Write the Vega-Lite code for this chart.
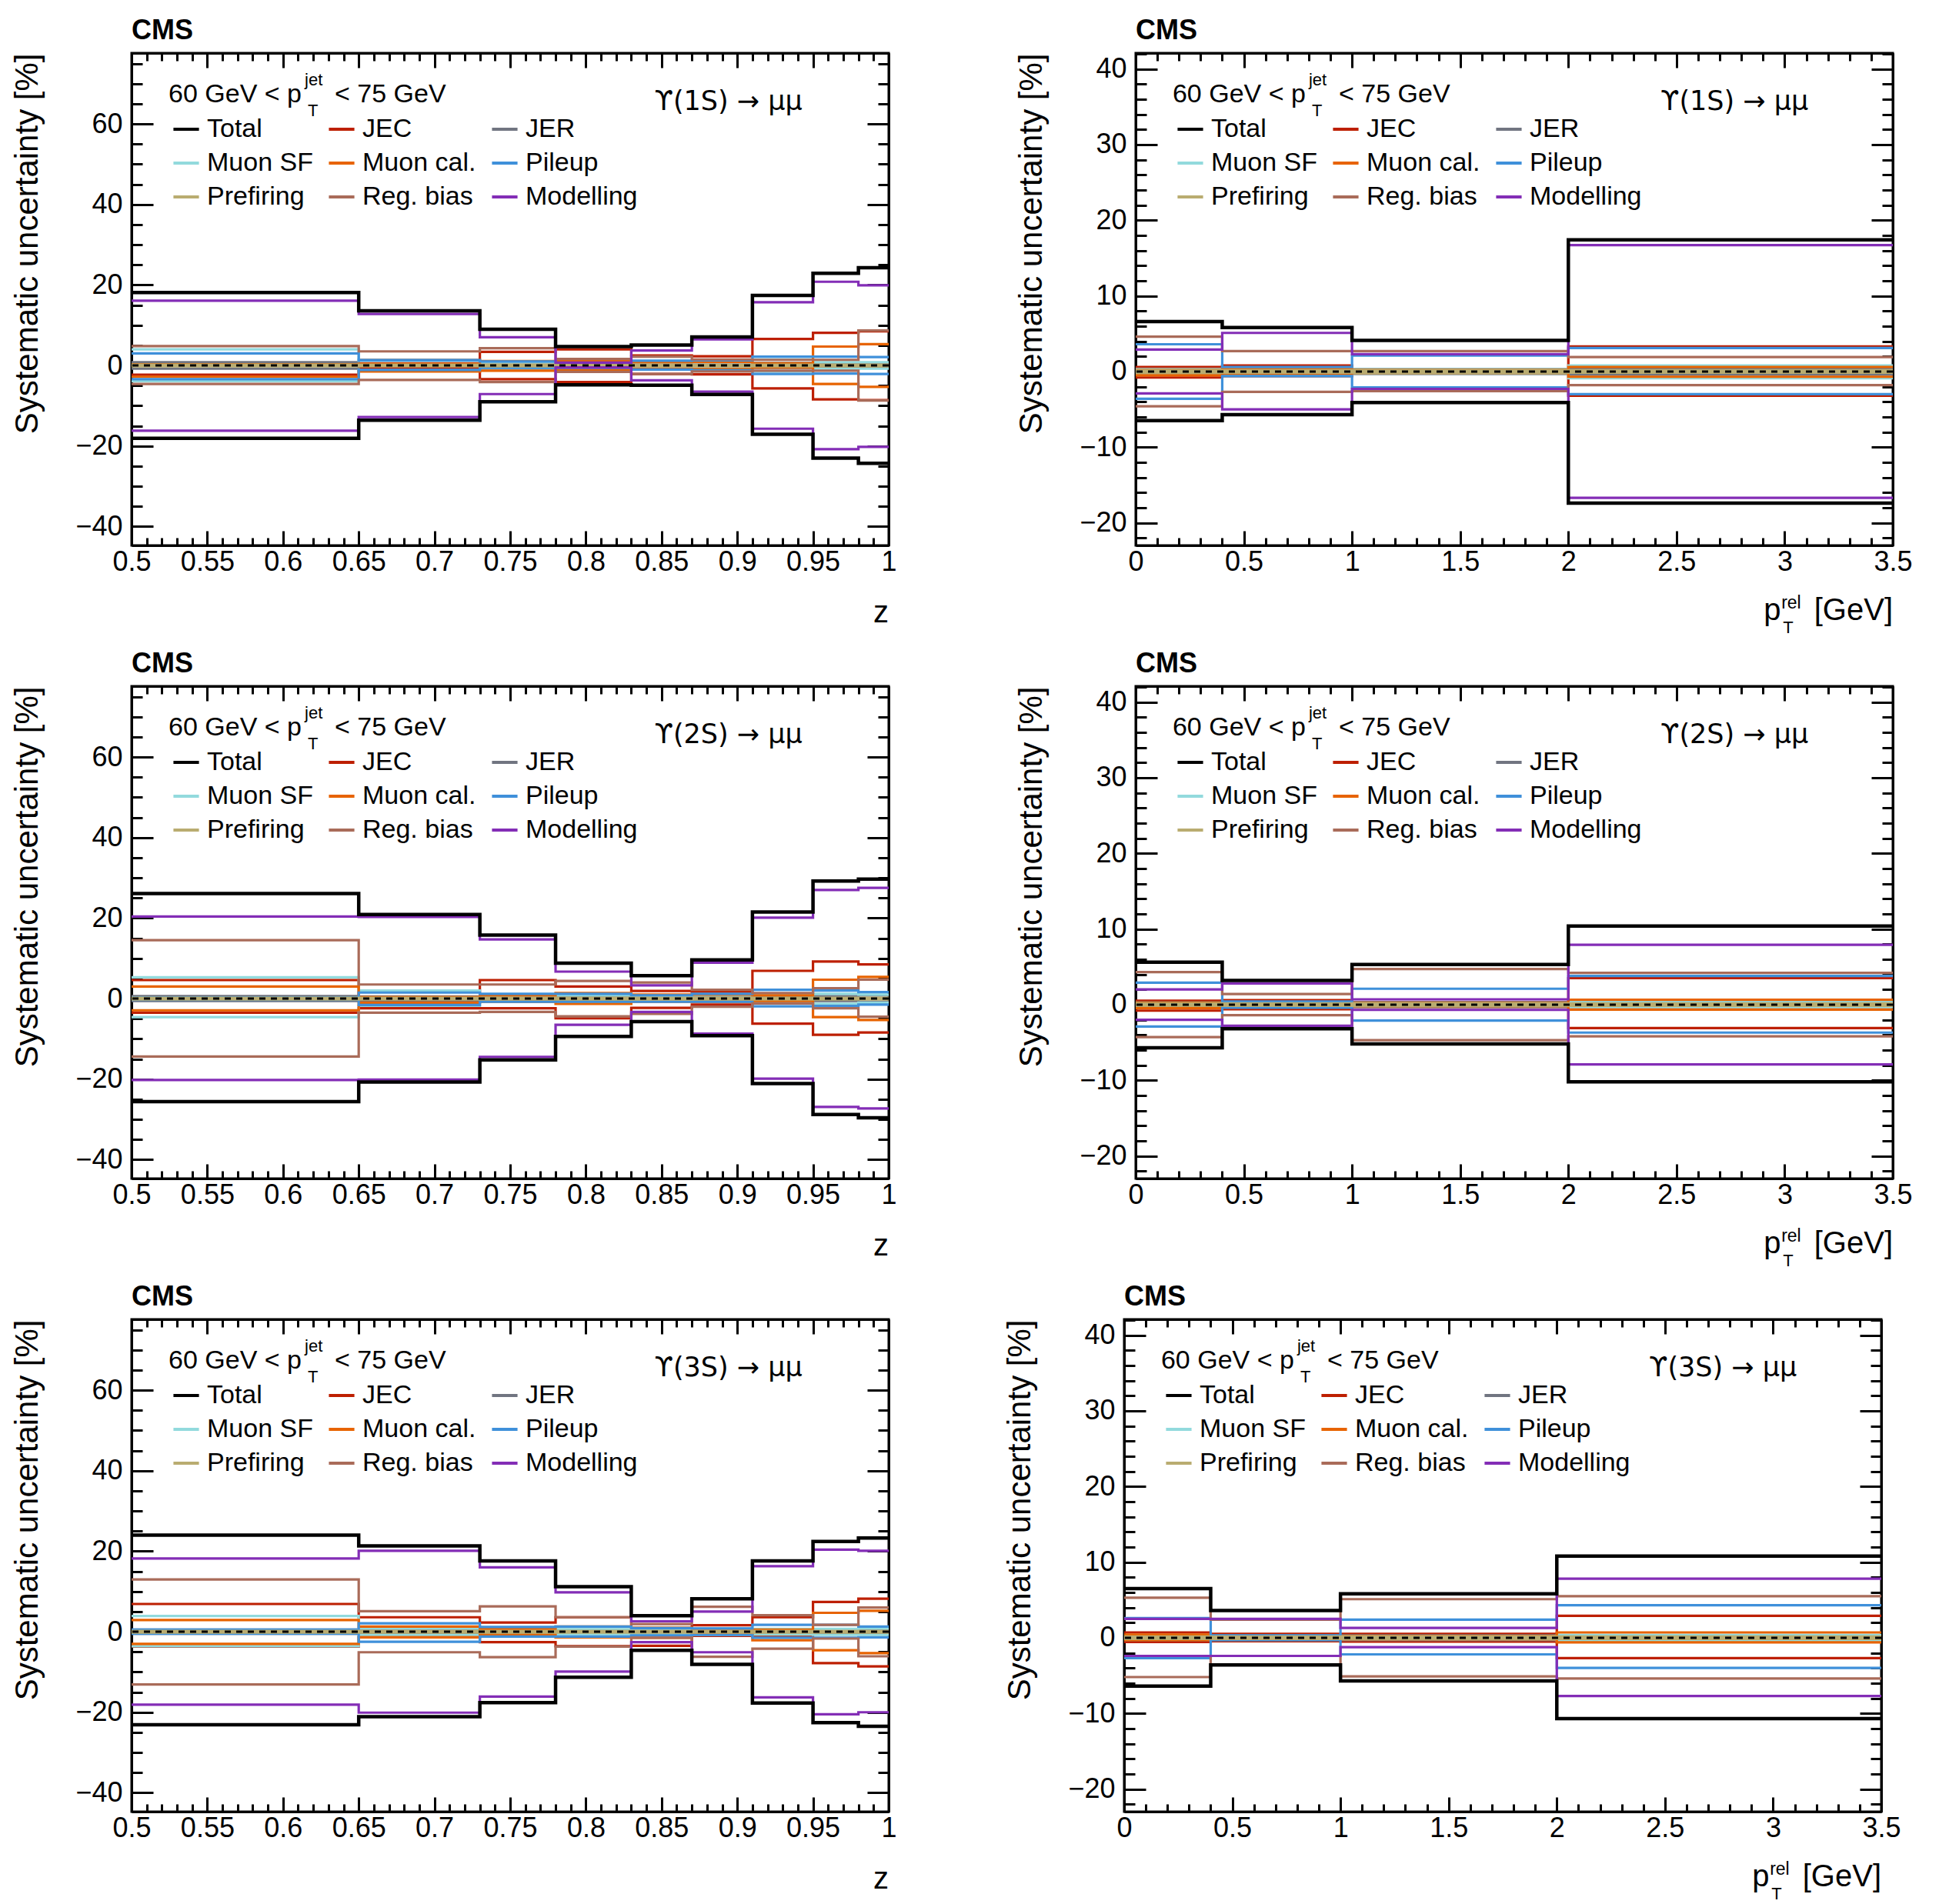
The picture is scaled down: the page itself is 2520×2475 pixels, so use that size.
{
  "$schema": "https://vega.github.io/schema/vega-lite/v6.json",
  "background": "white",
  "padding": {"left": 13, "top": 20, "right": 5, "bottom": 0},
  "config": {
    "font": "Liberation Sans",
    "view": {"stroke": "black", "strokeWidth": 3},
    "axis": {"grid": false, "domainColor": "black", "domainWidth": 3, "tickColor": "black", "tickWidth": 3, "labelFont": "Liberation Sans", "labelFontSize": 36, "labelColor": "black", "labelFlush": false, "labelOverlap": false, "titleFont": "Liberation Sans", "titleFontSize": 42, "titleFontWeight": "normal", "titleColor": "black"},
    "text": {"font": "Liberation Sans", "fontSize": 34, "color": "black", "baseline": "alphabetic", "align": "left"}
  },
  "datasets": {
    "z": [
      {"p":"1S","s":"JEC","x":0.5,"u":0.6,"d":-2.3},{"p":"1S","s":"JEC","x":0.65,"u":0.5,"d":-0.6},{"p":"1S","s":"JEC","x":0.73,"u":3.4,"d":-3.4},{"p":"1S","s":"JEC","x":0.78,"u":4.0,"d":-4.1},{"p":"1S","s":"JEC","x":0.83,"u":2.5,"d":-2.1},{"p":"1S","s":"JEC","x":0.87,"u":2.3,"d":-2.2},{"p":"1S","s":"JEC","x":0.91,"u":6.6,"d":-5.7},{"p":"1S","s":"JEC","x":0.95,"u":8.1,"d":-8.4},{"p":"1S","s":"JEC","x":0.98,"u":8.5,"d":-8.6},{"p":"1S","s":"JEC","x":1,"u":8.5,"d":-8.6},
      {"p":"1S","s":"JER","x":0.5,"u":0.8,"d":-0.8},{"p":"1S","s":"JER","x":0.65,"u":1.4,"d":-1.4},{"p":"1S","s":"JER","x":0.73,"u":0.8,"d":-0.8},{"p":"1S","s":"JER","x":0.78,"u":0.6,"d":-0.6},{"p":"1S","s":"JER","x":0.83,"u":0.8,"d":-0.8},{"p":"1S","s":"JER","x":0.87,"u":0.8,"d":-0.8},{"p":"1S","s":"JER","x":0.91,"u":0.6,"d":-0.6},{"p":"1S","s":"JER","x":0.95,"u":0.6,"d":-0.6},{"p":"1S","s":"JER","x":0.98,"u":0.5,"d":-0.5},{"p":"1S","s":"JER","x":1,"u":0.5,"d":-0.5},
      {"p":"1S","s":"Muon SF","x":0.5,"u":4.0,"d":-3.9},{"p":"1S","s":"Muon SF","x":0.65,"u":1.2,"d":-1.2},{"p":"1S","s":"Muon SF","x":0.73,"u":0.8,"d":-0.8},{"p":"1S","s":"Muon SF","x":0.78,"u":0.6,"d":-0.6},{"p":"1S","s":"Muon SF","x":0.83,"u":0.8,"d":-0.8},{"p":"1S","s":"Muon SF","x":0.87,"u":0.9,"d":-0.9},{"p":"1S","s":"Muon SF","x":0.91,"u":1.5,"d":-1.5},{"p":"1S","s":"Muon SF","x":0.95,"u":0.8,"d":-0.8},{"p":"1S","s":"Muon SF","x":0.98,"u":0.8,"d":-0.8},{"p":"1S","s":"Muon SF","x":1,"u":0.8,"d":-0.8},
      {"p":"1S","s":"Muon cal.","x":0.5,"u":0.3,"d":-2.8},{"p":"1S","s":"Muon cal.","x":0.65,"u":0.4,"d":-1.5},{"p":"1S","s":"Muon cal.","x":0.73,"u":1.1,"d":-1.3},{"p":"1S","s":"Muon cal.","x":0.78,"u":1.1,"d":-1.1},{"p":"1S","s":"Muon cal.","x":0.83,"u":0.8,"d":-0.8},{"p":"1S","s":"Muon cal.","x":0.87,"u":0.9,"d":-0.9},{"p":"1S","s":"Muon cal.","x":0.91,"u":0.5,"d":-0.5},{"p":"1S","s":"Muon cal.","x":0.95,"u":4.7,"d":-4.6},{"p":"1S","s":"Muon cal.","x":0.98,"u":5.3,"d":-5.3},{"p":"1S","s":"Muon cal.","x":1,"u":5.3,"d":-5.3},
      {"p":"1S","s":"Pileup","x":0.5,"u":3.0,"d":-3.4},{"p":"1S","s":"Pileup","x":0.65,"u":1.3,"d":-1.1},{"p":"1S","s":"Pileup","x":0.73,"u":1.0,"d":-0.6},{"p":"1S","s":"Pileup","x":0.78,"u":0.6,"d":-0.6},{"p":"1S","s":"Pileup","x":0.83,"u":1.2,"d":-1.0},{"p":"1S","s":"Pileup","x":0.87,"u":1.3,"d":-1.2},{"p":"1S","s":"Pileup","x":0.91,"u":2.2,"d":-2.1},{"p":"1S","s":"Pileup","x":0.95,"u":2.2,"d":-2.0},{"p":"1S","s":"Pileup","x":0.98,"u":2.1,"d":-2.1},{"p":"1S","s":"Pileup","x":1,"u":2.1,"d":-2.1},
      {"p":"1S","s":"Prefiring","x":0.5,"u":0.2,"d":-0.2},{"p":"1S","s":"Prefiring","x":0.65,"u":0.2,"d":-0.2},{"p":"1S","s":"Prefiring","x":0.73,"u":0.2,"d":-0.2},{"p":"1S","s":"Prefiring","x":0.78,"u":0.2,"d":-0.2},{"p":"1S","s":"Prefiring","x":0.83,"u":0.2,"d":-0.2},{"p":"1S","s":"Prefiring","x":0.87,"u":0.2,"d":-0.2},{"p":"1S","s":"Prefiring","x":0.91,"u":0.2,"d":-0.2},{"p":"1S","s":"Prefiring","x":0.95,"u":0.2,"d":-0.2},{"p":"1S","s":"Prefiring","x":0.98,"u":0.2,"d":-0.2},{"p":"1S","s":"Prefiring","x":1,"u":0.2,"d":-0.2},
      {"p":"1S","s":"Reg. bias","x":0.5,"u":4.8,"d":-4.6},{"p":"1S","s":"Reg. bias","x":0.65,"u":3.5,"d":-3.6},{"p":"1S","s":"Reg. bias","x":0.73,"u":4.3,"d":-4.1},{"p":"1S","s":"Reg. bias","x":0.78,"u":1.6,"d":-1.6},{"p":"1S","s":"Reg. bias","x":0.83,"u":2.2,"d":-2.1},{"p":"1S","s":"Reg. bias","x":0.87,"u":1.5,"d":-1.5},{"p":"1S","s":"Reg. bias","x":0.91,"u":1.4,"d":-1.3},{"p":"1S","s":"Reg. bias","x":0.95,"u":1.4,"d":-1.3},{"p":"1S","s":"Reg. bias","x":0.98,"u":8.7,"d":-8.7},{"p":"1S","s":"Reg. bias","x":1,"u":8.7,"d":-8.7},
      {"p":"1S","s":"Modelling","x":0.5,"u":16.1,"d":-16.2},{"p":"1S","s":"Modelling","x":0.65,"u":12.8,"d":-12.8},{"p":"1S","s":"Modelling","x":0.73,"u":7.0,"d":-7.1},{"p":"1S","s":"Modelling","x":0.78,"u":0.7,"d":-0.5},{"p":"1S","s":"Modelling","x":0.83,"u":3.7,"d":-3.7},{"p":"1S","s":"Modelling","x":0.87,"u":6.5,"d":-6.5},{"p":"1S","s":"Modelling","x":0.91,"u":15.7,"d":-15.7},{"p":"1S","s":"Modelling","x":0.95,"u":20.8,"d":-20.8},{"p":"1S","s":"Modelling","x":0.98,"u":19.9,"d":-20.2},{"p":"1S","s":"Modelling","x":1,"u":19.9,"d":-20.2},
      {"p":"1S","s":"Total","x":0.5,"u":18.1,"d":-18.1},{"p":"1S","s":"Total","x":0.65,"u":13.6,"d":-13.6},{"p":"1S","s":"Total","x":0.73,"u":9.0,"d":-9.0},{"p":"1S","s":"Total","x":0.78,"u":4.7,"d":-4.8},{"p":"1S","s":"Total","x":0.83,"u":5.1,"d":-4.9},{"p":"1S","s":"Total","x":0.87,"u":7.1,"d":-7.2},{"p":"1S","s":"Total","x":0.91,"u":17.4,"d":-17.1},{"p":"1S","s":"Total","x":0.95,"u":22.9,"d":-23.0},{"p":"1S","s":"Total","x":0.98,"u":24.3,"d":-24.3},{"p":"1S","s":"Total","x":1,"u":24.3,"d":-24.3},

      {"p":"2S","s":"JEC","x":0.5,"u":4.6,"d":-3.5},{"p":"2S","s":"JEC","x":0.65,"u":0.3,"d":-2.4},{"p":"2S","s":"JEC","x":0.73,"u":4.6,"d":-2.4},{"p":"2S","s":"JEC","x":0.78,"u":3.0,"d":-4.9},{"p":"2S","s":"JEC","x":0.83,"u":1.9,"d":-2.3},{"p":"2S","s":"JEC","x":0.87,"u":1.7,"d":-1.5},{"p":"2S","s":"JEC","x":0.91,"u":6.9,"d":-6.2},{"p":"2S","s":"JEC","x":0.95,"u":9.2,"d":-9.0},{"p":"2S","s":"JEC","x":0.98,"u":8.5,"d":-8.4},{"p":"2S","s":"JEC","x":1,"u":8.5,"d":-8.4},
      {"p":"2S","s":"JER","x":0.5,"u":0.6,"d":-0.6},{"p":"2S","s":"JER","x":0.65,"u":0.5,"d":-0.5},{"p":"2S","s":"JER","x":0.73,"u":0.5,"d":-0.5},{"p":"2S","s":"JER","x":0.78,"u":0.5,"d":-0.5},{"p":"2S","s":"JER","x":0.83,"u":0.6,"d":-0.6},{"p":"2S","s":"JER","x":0.87,"u":0.5,"d":-0.5},{"p":"2S","s":"JER","x":0.91,"u":0.5,"d":-0.5},{"p":"2S","s":"JER","x":0.95,"u":0.6,"d":-0.6},{"p":"2S","s":"JER","x":0.98,"u":0.8,"d":-0.8},{"p":"2S","s":"JER","x":1,"u":0.8,"d":-0.8},
      {"p":"2S","s":"Muon SF","x":0.5,"u":5.3,"d":-4.6},{"p":"2S","s":"Muon SF","x":0.65,"u":2.0,"d":-1.8},{"p":"2S","s":"Muon SF","x":0.73,"u":0.8,"d":-0.8},{"p":"2S","s":"Muon SF","x":0.78,"u":0.8,"d":-0.8},{"p":"2S","s":"Muon SF","x":0.83,"u":0.6,"d":-0.6},{"p":"2S","s":"Muon SF","x":0.87,"u":0.8,"d":-0.8},{"p":"2S","s":"Muon SF","x":0.91,"u":1.0,"d":-1.0},{"p":"2S","s":"Muon SF","x":0.95,"u":1.2,"d":-1.3},{"p":"2S","s":"Muon SF","x":0.98,"u":1.0,"d":-1.0},{"p":"2S","s":"Muon SF","x":1,"u":1.0,"d":-1.0},
      {"p":"2S","s":"Muon cal.","x":0.5,"u":3.0,"d":-2.9},{"p":"2S","s":"Muon cal.","x":0.65,"u":0.4,"d":-1.0},{"p":"2S","s":"Muon cal.","x":0.73,"u":0.8,"d":-0.8},{"p":"2S","s":"Muon cal.","x":0.78,"u":1.4,"d":-1.3},{"p":"2S","s":"Muon cal.","x":0.83,"u":1.0,"d":-0.8},{"p":"2S","s":"Muon cal.","x":0.87,"u":1.0,"d":-0.8},{"p":"2S","s":"Muon cal.","x":0.91,"u":0.8,"d":-0.6},{"p":"2S","s":"Muon cal.","x":0.95,"u":4.7,"d":-4.6},{"p":"2S","s":"Muon cal.","x":0.98,"u":5.4,"d":-5.3},{"p":"2S","s":"Muon cal.","x":1,"u":5.4,"d":-5.3},
      {"p":"2S","s":"Pileup","x":0.5,"u":0.3,"d":-0.3},{"p":"2S","s":"Pileup","x":0.65,"u":1.5,"d":-1.6},{"p":"2S","s":"Pileup","x":0.73,"u":1.2,"d":-0.8},{"p":"2S","s":"Pileup","x":0.78,"u":1.2,"d":-0.8},{"p":"2S","s":"Pileup","x":0.83,"u":0.8,"d":-0.8},{"p":"2S","s":"Pileup","x":0.87,"u":1.2,"d":-0.8},{"p":"2S","s":"Pileup","x":0.91,"u":2.2,"d":-1.9},{"p":"2S","s":"Pileup","x":0.95,"u":2.0,"d":-1.8},{"p":"2S","s":"Pileup","x":0.98,"u":1.6,"d":-1.5},{"p":"2S","s":"Pileup","x":1,"u":1.6,"d":-1.5},
      {"p":"2S","s":"Prefiring","x":0.5,"u":0.2,"d":-0.2},{"p":"2S","s":"Prefiring","x":0.65,"u":0.2,"d":-0.2},{"p":"2S","s":"Prefiring","x":0.73,"u":0.2,"d":-0.2},{"p":"2S","s":"Prefiring","x":0.78,"u":0.2,"d":-0.2},{"p":"2S","s":"Prefiring","x":0.83,"u":0.2,"d":-0.2},{"p":"2S","s":"Prefiring","x":0.87,"u":0.2,"d":-0.2},{"p":"2S","s":"Prefiring","x":0.91,"u":0.2,"d":-0.2},{"p":"2S","s":"Prefiring","x":0.95,"u":0.2,"d":-0.2},{"p":"2S","s":"Prefiring","x":0.98,"u":0.2,"d":-0.2},{"p":"2S","s":"Prefiring","x":1,"u":0.2,"d":-0.2},
      {"p":"2S","s":"Reg. bias","x":0.5,"u":14.5,"d":-14.4},{"p":"2S","s":"Reg. bias","x":0.65,"u":3.5,"d":-3.5},{"p":"2S","s":"Reg. bias","x":0.73,"u":3.5,"d":-3.3},{"p":"2S","s":"Reg. bias","x":0.78,"u":4.4,"d":-4.4},{"p":"2S","s":"Reg. bias","x":0.83,"u":4.0,"d":-3.8},{"p":"2S","s":"Reg. bias","x":0.87,"u":2.2,"d":-2.0},{"p":"2S","s":"Reg. bias","x":0.91,"u":1.4,"d":-1.2},{"p":"2S","s":"Reg. bias","x":0.95,"u":2.6,"d":-2.4},{"p":"2S","s":"Reg. bias","x":0.98,"u":4.7,"d":-4.5},{"p":"2S","s":"Reg. bias","x":1,"u":4.7,"d":-4.5},
      {"p":"2S","s":"Modelling","x":0.5,"u":20.4,"d":-20.2},{"p":"2S","s":"Modelling","x":0.65,"u":20.3,"d":-20.1},{"p":"2S","s":"Modelling","x":0.73,"u":14.7,"d":-14.5},{"p":"2S","s":"Modelling","x":0.78,"u":6.7,"d":-6.5},{"p":"2S","s":"Modelling","x":0.83,"u":3.3,"d":-3.3},{"p":"2S","s":"Modelling","x":0.87,"u":8.9,"d":-8.7},{"p":"2S","s":"Modelling","x":0.91,"u":20.1,"d":-19.9},{"p":"2S","s":"Modelling","x":0.95,"u":27.0,"d":-26.9},{"p":"2S","s":"Modelling","x":0.98,"u":27.5,"d":-27.3},{"p":"2S","s":"Modelling","x":1,"u":27.5,"d":-27.3},
      {"p":"2S","s":"Total","x":0.5,"u":26.1,"d":-25.6},{"p":"2S","s":"Total","x":0.65,"u":20.9,"d":-20.7},{"p":"2S","s":"Total","x":0.73,"u":15.8,"d":-15.2},{"p":"2S","s":"Total","x":0.78,"u":8.8,"d":-9.4},{"p":"2S","s":"Total","x":0.83,"u":5.7,"d":-5.7},{"p":"2S","s":"Total","x":0.87,"u":9.6,"d":-9.2},{"p":"2S","s":"Total","x":0.91,"u":21.5,"d":-21.1},{"p":"2S","s":"Total","x":0.95,"u":29.2,"d":-28.8},{"p":"2S","s":"Total","x":0.98,"u":29.7,"d":-29.6},{"p":"2S","s":"Total","x":1,"u":29.7,"d":-29.6},

      {"p":"3S","s":"JEC","x":0.5,"u":6.9,"d":-3.7},{"p":"3S","s":"JEC","x":0.65,"u":3.6,"d":-1.3},{"p":"3S","s":"JEC","x":0.73,"u":2.3,"d":-2.6},{"p":"3S","s":"JEC","x":0.78,"u":3.6,"d":-3.6},{"p":"3S","s":"JEC","x":0.83,"u":0.8,"d":-3.5},{"p":"3S","s":"JEC","x":0.87,"u":1.6,"d":-1.0},{"p":"3S","s":"JEC","x":0.91,"u":3.6,"d":-1.2},{"p":"3S","s":"JEC","x":0.95,"u":7.4,"d":-7.8},{"p":"3S","s":"JEC","x":0.98,"u":8.2,"d":-8.6},{"p":"3S","s":"JEC","x":1,"u":8.2,"d":-8.6},
      {"p":"3S","s":"JER","x":0.5,"u":0.5,"d":-0.5},{"p":"3S","s":"JER","x":0.65,"u":0.5,"d":-0.5},{"p":"3S","s":"JER","x":0.73,"u":0.5,"d":-0.5},{"p":"3S","s":"JER","x":0.78,"u":0.5,"d":-0.5},{"p":"3S","s":"JER","x":0.83,"u":0.5,"d":-0.5},{"p":"3S","s":"JER","x":0.87,"u":0.5,"d":-0.5},{"p":"3S","s":"JER","x":0.91,"u":0.5,"d":-0.5},{"p":"3S","s":"JER","x":0.95,"u":0.5,"d":-0.5},{"p":"3S","s":"JER","x":0.98,"u":0.6,"d":-0.6},{"p":"3S","s":"JER","x":1,"u":0.6,"d":-0.6},
      {"p":"3S","s":"Muon SF","x":0.5,"u":3.9,"d":-3.6},{"p":"3S","s":"Muon SF","x":0.65,"u":0.8,"d":-0.8},{"p":"3S","s":"Muon SF","x":0.73,"u":0.6,"d":-0.6},{"p":"3S","s":"Muon SF","x":0.78,"u":0.6,"d":-0.6},{"p":"3S","s":"Muon SF","x":0.83,"u":0.6,"d":-0.6},{"p":"3S","s":"Muon SF","x":0.87,"u":0.8,"d":-0.8},{"p":"3S","s":"Muon SF","x":0.91,"u":0.7,"d":-0.7},{"p":"3S","s":"Muon SF","x":0.95,"u":0.7,"d":-0.8},{"p":"3S","s":"Muon SF","x":0.98,"u":0.8,"d":-0.8},{"p":"3S","s":"Muon SF","x":1,"u":0.8,"d":-0.8},
      {"p":"3S","s":"Muon cal.","x":0.5,"u":2.9,"d":-3.0},{"p":"3S","s":"Muon cal.","x":0.65,"u":1.3,"d":-1.4},{"p":"3S","s":"Muon cal.","x":0.73,"u":0.7,"d":-0.7},{"p":"3S","s":"Muon cal.","x":0.78,"u":1.3,"d":-1.4},{"p":"3S","s":"Muon cal.","x":0.83,"u":1.0,"d":-1.5},{"p":"3S","s":"Muon cal.","x":0.87,"u":0.5,"d":-0.5},{"p":"3S","s":"Muon cal.","x":0.91,"u":0.5,"d":-2.1},{"p":"3S","s":"Muon cal.","x":0.95,"u":4.7,"d":-4.6},{"p":"3S","s":"Muon cal.","x":0.98,"u":5.2,"d":-5.3},{"p":"3S","s":"Muon cal.","x":1,"u":5.2,"d":-5.3},
      {"p":"3S","s":"Pileup","x":0.5,"u":0.5,"d":-0.5},{"p":"3S","s":"Pileup","x":0.65,"u":2.1,"d":-2.5},{"p":"3S","s":"Pileup","x":0.73,"u":1.2,"d":-1.2},{"p":"3S","s":"Pileup","x":0.78,"u":1.3,"d":-1.2},{"p":"3S","s":"Pileup","x":0.83,"u":0.9,"d":-0.9},{"p":"3S","s":"Pileup","x":0.87,"u":0.8,"d":-0.8},{"p":"3S","s":"Pileup","x":0.91,"u":1.7,"d":-1.5},{"p":"3S","s":"Pileup","x":0.95,"u":1.7,"d":-1.5},{"p":"3S","s":"Pileup","x":0.98,"u":1.3,"d":-1.4},{"p":"3S","s":"Pileup","x":1,"u":1.3,"d":-1.4},
      {"p":"3S","s":"Prefiring","x":0.5,"u":0.2,"d":-0.2},{"p":"3S","s":"Prefiring","x":0.65,"u":0.2,"d":-0.2},{"p":"3S","s":"Prefiring","x":0.73,"u":0.2,"d":-0.2},{"p":"3S","s":"Prefiring","x":0.78,"u":0.2,"d":-0.2},{"p":"3S","s":"Prefiring","x":0.83,"u":0.2,"d":-0.2},{"p":"3S","s":"Prefiring","x":0.87,"u":0.2,"d":-0.2},{"p":"3S","s":"Prefiring","x":0.91,"u":0.2,"d":-0.2},{"p":"3S","s":"Prefiring","x":0.95,"u":0.2,"d":-0.2},{"p":"3S","s":"Prefiring","x":0.98,"u":0.2,"d":-0.2},{"p":"3S","s":"Prefiring","x":1,"u":0.2,"d":-0.2},
      {"p":"3S","s":"Reg. bias","x":0.5,"u":13.0,"d":-13.1},{"p":"3S","s":"Reg. bias","x":0.65,"u":5.1,"d":-5.1},{"p":"3S","s":"Reg. bias","x":0.73,"u":6.3,"d":-6.3},{"p":"3S","s":"Reg. bias","x":0.78,"u":3.6,"d":-3.7},{"p":"3S","s":"Reg. bias","x":0.83,"u":1.9,"d":-1.5},{"p":"3S","s":"Reg. bias","x":0.87,"u":6.2,"d":-6.2},{"p":"3S","s":"Reg. bias","x":0.91,"u":4.1,"d":-4.2},{"p":"3S","s":"Reg. bias","x":0.95,"u":1.7,"d":-1.7},{"p":"3S","s":"Reg. bias","x":0.98,"u":6.0,"d":-6.1},{"p":"3S","s":"Reg. bias","x":1,"u":6.0,"d":-6.1},
      {"p":"3S","s":"Modelling","x":0.5,"u":18.2,"d":-18.1},{"p":"3S","s":"Modelling","x":0.65,"u":20.1,"d":-20.1},{"p":"3S","s":"Modelling","x":0.73,"u":16.0,"d":-16.1},{"p":"3S","s":"Modelling","x":0.78,"u":9.8,"d":-9.9},{"p":"3S","s":"Modelling","x":0.83,"u":2.6,"d":-2.6},{"p":"3S","s":"Modelling","x":0.87,"u":5.0,"d":-5.1},{"p":"3S","s":"Modelling","x":0.91,"u":16.3,"d":-16.3},{"p":"3S","s":"Modelling","x":0.95,"u":20.4,"d":-20.5},{"p":"3S","s":"Modelling","x":0.98,"u":20.1,"d":-20.0},{"p":"3S","s":"Modelling","x":1,"u":20.1,"d":-20.0},
      {"p":"3S","s":"Total","x":0.5,"u":24.0,"d":-23.1},{"p":"3S","s":"Total","x":0.65,"u":21.3,"d":-21.1},{"p":"3S","s":"Total","x":0.73,"u":17.6,"d":-17.6},{"p":"3S","s":"Total","x":0.78,"u":11.2,"d":-11.3},{"p":"3S","s":"Total","x":0.83,"u":4.0,"d":-4.6},{"p":"3S","s":"Total","x":0.87,"u":8.2,"d":-8.1},{"p":"3S","s":"Total","x":0.91,"u":17.6,"d":-17.7},{"p":"3S","s":"Total","x":0.95,"u":22.4,"d":-22.6},{"p":"3S","s":"Total","x":0.98,"u":23.3,"d":-23.5},{"p":"3S","s":"Total","x":1,"u":23.3,"d":-23.5}
    ],
    "pt": [
      {"p":"1S","s":"JEC","x":0,"u":0.6,"d":-0.8},{"p":"1S","s":"JEC","x":0.4,"u":0.8,"d":-0.6},{"p":"1S","s":"JEC","x":1,"u":0.3,"d":-0.3},{"p":"1S","s":"JEC","x":2,"u":3.3,"d":-3.2},{"p":"1S","s":"JEC","x":3.5,"u":3.3,"d":-3.2},
      {"p":"1S","s":"JER","x":0,"u":0.3,"d":-0.3},{"p":"1S","s":"JER","x":0.4,"u":0.3,"d":-0.3},{"p":"1S","s":"JER","x":1,"u":0.3,"d":-0.3},{"p":"1S","s":"JER","x":2,"u":0.4,"d":-0.4},{"p":"1S","s":"JER","x":3.5,"u":0.4,"d":-0.4},
      {"p":"1S","s":"Muon SF","x":0,"u":0.3,"d":-0.3},{"p":"1S","s":"Muon SF","x":0.4,"u":0.4,"d":-0.4},{"p":"1S","s":"Muon SF","x":1,"u":0.3,"d":-0.3},{"p":"1S","s":"Muon SF","x":2,"u":0.8,"d":-0.9},{"p":"1S","s":"Muon SF","x":3.5,"u":0.8,"d":-0.9},
      {"p":"1S","s":"Muon cal.","x":0,"u":0.2,"d":-0.5},{"p":"1S","s":"Muon cal.","x":0.4,"u":0.3,"d":-0.3},{"p":"1S","s":"Muon cal.","x":1,"u":0.2,"d":-0.2},{"p":"1S","s":"Muon cal.","x":2,"u":0.6,"d":-0.7},{"p":"1S","s":"Muon cal.","x":3.5,"u":0.6,"d":-0.7},
      {"p":"1S","s":"Pileup","x":0,"u":3.6,"d":-3.6},{"p":"1S","s":"Pileup","x":0.4,"u":0.6,"d":-0.6},{"p":"1S","s":"Pileup","x":1,"u":2.1,"d":-2.1},{"p":"1S","s":"Pileup","x":2,"u":3.1,"d":-3.0},{"p":"1S","s":"Pileup","x":3.5,"u":3.1,"d":-3.0},
      {"p":"1S","s":"Prefiring","x":0,"u":0.15,"d":-0.15},{"p":"1S","s":"Prefiring","x":0.4,"u":0.15,"d":-0.15},{"p":"1S","s":"Prefiring","x":1,"u":0.15,"d":-0.15},{"p":"1S","s":"Prefiring","x":2,"u":0.15,"d":-0.15},{"p":"1S","s":"Prefiring","x":3.5,"u":0.15,"d":-0.15},
      {"p":"1S","s":"Reg. bias","x":0,"u":4.6,"d":-4.6},{"p":"1S","s":"Reg. bias","x":0.4,"u":2.7,"d":-2.7},{"p":"1S","s":"Reg. bias","x":1,"u":2.7,"d":-2.6},{"p":"1S","s":"Reg. bias","x":2,"u":1.9,"d":-1.8},{"p":"1S","s":"Reg. bias","x":3.5,"u":1.9,"d":-1.8},
      {"p":"1S","s":"Modelling","x":0,"u":2.9,"d":-2.9},{"p":"1S","s":"Modelling","x":0.4,"u":5.1,"d":-5.0},{"p":"1S","s":"Modelling","x":1,"u":2.3,"d":-2.3},{"p":"1S","s":"Modelling","x":2,"u":16.7,"d":-16.7},{"p":"1S","s":"Modelling","x":3.5,"u":16.7,"d":-16.7},
      {"p":"1S","s":"Total","x":0,"u":6.6,"d":-6.5},{"p":"1S","s":"Total","x":0.4,"u":5.8,"d":-5.7},{"p":"1S","s":"Total","x":1,"u":4.1,"d":-4.1},{"p":"1S","s":"Total","x":2,"u":17.4,"d":-17.4},{"p":"1S","s":"Total","x":3.5,"u":17.4,"d":-17.4},

      {"p":"2S","s":"JEC","x":0,"u":0.5,"d":-0.8},{"p":"2S","s":"JEC","x":0.4,"u":0.6,"d":-0.6},{"p":"2S","s":"JEC","x":1,"u":0.3,"d":-0.3},{"p":"2S","s":"JEC","x":2,"u":3.5,"d":-3.1},{"p":"2S","s":"JEC","x":3.5,"u":3.5,"d":-3.1},
      {"p":"2S","s":"JER","x":0,"u":0.3,"d":-0.3},{"p":"2S","s":"JER","x":0.4,"u":0.3,"d":-0.3},{"p":"2S","s":"JER","x":1,"u":0.3,"d":-0.3},{"p":"2S","s":"JER","x":2,"u":0.3,"d":-0.3},{"p":"2S","s":"JER","x":3.5,"u":0.3,"d":-0.3},
      {"p":"2S","s":"Muon SF","x":0,"u":0.2,"d":-0.2},{"p":"2S","s":"Muon SF","x":0.4,"u":0.2,"d":-0.2},{"p":"2S","s":"Muon SF","x":1,"u":0.2,"d":-0.2},{"p":"2S","s":"Muon SF","x":2,"u":0.3,"d":-0.3},{"p":"2S","s":"Muon SF","x":3.5,"u":0.3,"d":-0.3},
      {"p":"2S","s":"Muon cal.","x":0,"u":0.25,"d":-0.45},{"p":"2S","s":"Muon cal.","x":0.4,"u":0.2,"d":-0.2},{"p":"2S","s":"Muon cal.","x":1,"u":0.2,"d":-0.2},{"p":"2S","s":"Muon cal.","x":2,"u":0.65,"d":-0.65},{"p":"2S","s":"Muon cal.","x":3.5,"u":0.65,"d":-0.65},
      {"p":"2S","s":"Pileup","x":0,"u":2.9,"d":-2.9},{"p":"2S","s":"Pileup","x":0.4,"u":0.4,"d":-0.4},{"p":"2S","s":"Pileup","x":1,"u":2.1,"d":-2.1},{"p":"2S","s":"Pileup","x":2,"u":3.8,"d":-3.7},{"p":"2S","s":"Pileup","x":3.5,"u":3.8,"d":-3.7},
      {"p":"2S","s":"Prefiring","x":0,"u":0.15,"d":-0.15},{"p":"2S","s":"Prefiring","x":0.4,"u":0.15,"d":-0.15},{"p":"2S","s":"Prefiring","x":1,"u":0.15,"d":-0.15},{"p":"2S","s":"Prefiring","x":2,"u":0.15,"d":-0.15},{"p":"2S","s":"Prefiring","x":3.5,"u":0.15,"d":-0.15},
      {"p":"2S","s":"Reg. bias","x":0,"u":4.3,"d":-4.3},{"p":"2S","s":"Reg. bias","x":0.4,"u":1.4,"d":-1.4},{"p":"2S","s":"Reg. bias","x":1,"u":4.7,"d":-4.7},{"p":"2S","s":"Reg. bias","x":2,"u":4.2,"d":-4.2},{"p":"2S","s":"Reg. bias","x":3.5,"u":4.2,"d":-4.2},
      {"p":"2S","s":"Modelling","x":0,"u":2.0,"d":-2.0},{"p":"2S","s":"Modelling","x":0.4,"u":2.8,"d":-2.8},{"p":"2S","s":"Modelling","x":1,"u":0.7,"d":-0.7},{"p":"2S","s":"Modelling","x":2,"u":7.9,"d":-7.9},{"p":"2S","s":"Modelling","x":3.5,"u":7.9,"d":-7.9},
      {"p":"2S","s":"Total","x":0,"u":5.6,"d":-5.7},{"p":"2S","s":"Total","x":0.4,"u":3.2,"d":-3.2},{"p":"2S","s":"Total","x":1,"u":5.3,"d":-5.2},{"p":"2S","s":"Total","x":2,"u":10.4,"d":-10.2},{"p":"2S","s":"Total","x":3.5,"u":10.4,"d":-10.2},

      {"p":"3S","s":"JEC","x":0,"u":0.7,"d":-0.55},{"p":"3S","s":"JEC","x":0.4,"u":0.5,"d":-0.45},{"p":"3S","s":"JEC","x":1,"u":0.5,"d":-0.5},{"p":"3S","s":"JEC","x":2,"u":2.9,"d":-2.7},{"p":"3S","s":"JEC","x":3.5,"u":2.9,"d":-2.7},
      {"p":"3S","s":"JER","x":0,"u":0.3,"d":-0.3},{"p":"3S","s":"JER","x":0.4,"u":0.3,"d":-0.3},{"p":"3S","s":"JER","x":1,"u":0.3,"d":-0.3},{"p":"3S","s":"JER","x":2,"u":0.3,"d":-0.3},{"p":"3S","s":"JER","x":3.5,"u":0.3,"d":-0.3},
      {"p":"3S","s":"Muon SF","x":0,"u":0.2,"d":-0.2},{"p":"3S","s":"Muon SF","x":0.4,"u":0.2,"d":-0.2},{"p":"3S","s":"Muon SF","x":1,"u":0.2,"d":-0.2},{"p":"3S","s":"Muon SF","x":2,"u":0.35,"d":-0.35},{"p":"3S","s":"Muon SF","x":3.5,"u":0.35,"d":-0.35},
      {"p":"3S","s":"Muon cal.","x":0,"u":0.4,"d":-0.3},{"p":"3S","s":"Muon cal.","x":0.4,"u":0.2,"d":-0.2},{"p":"3S","s":"Muon cal.","x":1,"u":0.2,"d":-0.2},{"p":"3S","s":"Muon cal.","x":2,"u":0.7,"d":-0.6},{"p":"3S","s":"Muon cal.","x":3.5,"u":0.7,"d":-0.6},
      {"p":"3S","s":"Pileup","x":0,"u":2.6,"d":-2.7},{"p":"3S","s":"Pileup","x":0.4,"u":0.3,"d":-0.3},{"p":"3S","s":"Pileup","x":1,"u":2.4,"d":-2.2},{"p":"3S","s":"Pileup","x":2,"u":4.3,"d":-4.0},{"p":"3S","s":"Pileup","x":3.5,"u":4.3,"d":-4.0},
      {"p":"3S","s":"Prefiring","x":0,"u":0.15,"d":-0.15},{"p":"3S","s":"Prefiring","x":0.4,"u":0.15,"d":-0.15},{"p":"3S","s":"Prefiring","x":1,"u":0.15,"d":-0.15},{"p":"3S","s":"Prefiring","x":2,"u":0.15,"d":-0.15},{"p":"3S","s":"Prefiring","x":3.5,"u":0.15,"d":-0.15},
      {"p":"3S","s":"Reg. bias","x":0,"u":5.3,"d":-5.2},{"p":"3S","s":"Reg. bias","x":0.4,"u":2.4,"d":-2.4},{"p":"3S","s":"Reg. bias","x":1,"u":5.1,"d":-5.1},{"p":"3S","s":"Reg. bias","x":2,"u":5.5,"d":-5.4},{"p":"3S","s":"Reg. bias","x":3.5,"u":5.5,"d":-5.4},
      {"p":"3S","s":"Modelling","x":0,"u":2.5,"d":-2.4},{"p":"3S","s":"Modelling","x":0.4,"u":2.5,"d":-2.4},{"p":"3S","s":"Modelling","x":1,"u":1.3,"d":-1.25},{"p":"3S","s":"Modelling","x":2,"u":7.8,"d":-7.7},{"p":"3S","s":"Modelling","x":3.5,"u":7.8,"d":-7.7},
      {"p":"3S","s":"Total","x":0,"u":6.5,"d":-6.4},{"p":"3S","s":"Total","x":0.4,"u":3.6,"d":-3.6},{"p":"3S","s":"Total","x":1,"u":5.8,"d":-5.7},{"p":"3S","s":"Total","x":2,"u":10.8,"d":-10.7},{"p":"3S","s":"Total","x":3.5,"u":10.8,"d":-10.7}
    ]
  },
  "spacing": 14,
  "resolve": {"scale": {"color": "independent"}, "legend": {"color": "independent"}},
  "vconcat": [
    {
      "spacing": 151,
      "resolve": {"scale": {"color": "independent"}, "legend": {"color": "independent"}},
      "hconcat": [
        {
          "width": 984, "height": 640,
          "resolve": {"axis": {"x": "independent", "y": "independent"}},
          "layer": [
            {"data": {"name": "z"}, "transform": [{"filter": "datum.p === '1S'"}, {"fold": ["u", "d"], "as": ["dir", "v"]}],
             "mark": {"type": "line", "interpolate": "step-after"},
             "encoding": {
               "x": {"field": "x", "type": "quantitative", "scale": {"domain": [0.5, 1], "nice": false, "zero": false},
                     "axis": {"orient": "bottom", "title": null, "format": "~g", "values": [0.5,0.51,0.52,0.53,0.54,0.55,0.56,0.57,0.58,0.59,0.6,0.61,0.62,0.63,0.64,0.65,0.66,0.67,0.68,0.69,0.7,0.71,0.72,0.73,0.74,0.75,0.76,0.77,0.78,0.79,0.8,0.81,0.82,0.83,0.84,0.85,0.86,0.87,0.88,0.89,0.9,0.91,0.92,0.93,0.94,0.95,0.96,0.97,0.98,0.99,1], "labelExpr": "round(datum.value*100) % 5 === 0 ? datum.label : ''", "tickSize": {"condition": {"test": "round(datum.value*100) % 5 === 0", "value": -19}, "value": -10}, "labelPadding": 23}},
               "y": {"field": "v", "type": "quantitative", "scale": {"domain": [-44.7, 77.6], "nice": false, "zero": false},
                     "axis": {"orient": "left", "title": "Systematic uncertainty [%]", "titleAnchor": "end", "titlePadding": 40, "values": [-40,-35,-30,-25,-20,-15,-10,-5,0,5,10,15,20,25,30,35,40,45,50,55,60,65,70,75], "labelExpr": "datum.value % 20 === 0 ? datum.label : ''", "tickSize": {"condition": {"test": "datum.value % 20 === 0", "value": -28}, "value": -14}, "labelPadding": 40}},
               "color": {"field": "s", "type": "nominal", "scale": {"domain": ["Total", "JEC", "JER", "Muon SF", "Muon cal.", "Pileup", "Prefiring", "Reg. bias", "Modelling"], "range": ["#000000", "#bd1f01", "#717581", "#92dadd", "#e76300", "#3f90da", "#b9ac70", "#a96b59", "#832db6"]},
                         "legend": {"title": null, "orient": "none", "legendX": 52, "legendY": 80, "direction": "horizontal", "columns": 3, "symbolType": "stroke", "symbolSize": 1100, "symbolStrokeWidth": 4, "labelFontSize": 34, "labelColor": "black", "labelOffset": 8, "columnPadding": 12, "rowPadding": 8, "padding": 0, "labelLimit": 400}},
               "detail": {"field": "dir"},
               "strokeWidth": {"condition": {"test": "datum.s === 'Total'", "value": 4.5}, "value": 3.2}
             }},
            {"data": {"values": [{}]}, "mark": {"type": "rule", "strokeDash": [8, 7], "strokeWidth": 3, "color": "black"}, "encoding": {"y": {"datum": 0, "axis": null}}},
            {"data": {"values": [{}]}, "mark": {"type": "point", "opacity": 0},
             "encoding": {
               "x": {"datum": 0.75, "axis": {"orient": "top", "title": null, "labels": false, "values": [0.5,0.51,0.52,0.53,0.54,0.55,0.56,0.57,0.58,0.59,0.6,0.61,0.62,0.63,0.64,0.65,0.66,0.67,0.68,0.69,0.7,0.71,0.72,0.73,0.74,0.75,0.76,0.77,0.78,0.79,0.8,0.81,0.82,0.83,0.84,0.85,0.86,0.87,0.88,0.89,0.9,0.91,0.92,0.93,0.94,0.95,0.96,0.97,0.98,0.99,1], "tickSize": {"condition": {"test": "round(datum.value*100) % 5 === 0", "value": -19}, "value": -10}}},
               "y": {"datum": 0, "axis": {"orient": "right", "title": null, "labels": false, "values": [-40,-35,-30,-25,-20,-15,-10,-5,0,5,10,15,20,25,30,35,40,45,50,55,60,65,70,75], "tickSize": {"condition": {"test": "datum.value % 20 === 0", "value": -28}, "value": -14}}}
             }},
            {"data": {"values": [{}]}, "mark": {"type": "text", "text": "CMS", "fontSize": 36, "fontWeight": "bold"}, "encoding": {"x": {"datum": 0.5, "axis": null}, "y": {"datum": 81.04, "axis": null}}},
            {"data": {"values": [{}]}, "mark": {"type": "text", "text": "60 GeV < p"}, "encoding": {"x": {"datum": 0.5244, "axis": null}, "y": {"datum": 65.4, "axis": null}}},
            {"data": {"values": [{}]}, "mark": {"type": "text", "text": "jet", "fontSize": 22, "dx": 177, "dy": -22}, "encoding": {"x": {"datum": 0.5244, "axis": null}, "y": {"datum": 65.4, "axis": null}}},
            {"data": {"values": [{}]}, "mark": {"type": "text", "text": "T", "fontSize": 22, "dx": 181, "dy": 18}, "encoding": {"x": {"datum": 0.5244, "axis": null}, "y": {"datum": 65.4, "axis": null}}},
            {"data": {"values": [{}]}, "mark": {"type": "text", "text": "< 75 GeV", "dx": 216}, "encoding": {"x": {"datum": 0.5244, "axis": null}, "y": {"datum": 65.4, "axis": null}}},
            {"data": {"values": [{}]}, "mark": {"type": "text", "text": "ϒ(1S) → μμ", "align": "right", "font": "DejaVu Sans", "fontSize": 35}, "encoding": {"x": {"datum": 0.943, "axis": null}, "y": {"datum": 63.5, "axis": null}}},
            {"data": {"values": [{}]}, "mark": {"type": "text", "text": "z", "align": "right", "fontSize": 40}, "encoding": {"x": {"datum": 1, "axis": null}, "y": {"datum": -63.8, "axis": null}}}
          ]
        },
        {
          "width": 984, "height": 640,
          "resolve": {"axis": {"x": "independent", "y": "independent"}},
          "layer": [
            {"data": {"name": "pt"}, "transform": [{"filter": "datum.p === '1S'"}, {"fold": ["u", "d"], "as": ["dir", "v"]}],
             "mark": {"type": "line", "interpolate": "step-after"},
             "encoding": {
               "x": {"field": "x", "type": "quantitative", "scale": {"domain": [0, 3.5], "nice": false, "zero": false},
                     "axis": {"orient": "bottom", "title": null, "format": "~g", "values": [0,0.1,0.2,0.3,0.4,0.5,0.6,0.7,0.8,0.9,1,1.1,1.2,1.3,1.4,1.5,1.6,1.7,1.8,1.9,2,2.1,2.2,2.3,2.4,2.5,2.6,2.7,2.8,2.9,3,3.1,3.2,3.3,3.4,3.5], "labelExpr": "round(datum.value*10) % 5 === 0 ? datum.label : ''", "tickSize": {"condition": {"test": "round(datum.value*10) % 5 === 0", "value": -19}, "value": -10}, "labelPadding": 23}},
               "y": {"field": "v", "type": "quantitative", "scale": {"domain": [-23, 42.1], "nice": false, "zero": false},
                     "axis": {"orient": "left", "title": "Systematic uncertainty [%]", "titleAnchor": "end", "titlePadding": 40, "values": [-22,-20,-18,-16,-14,-12,-10,-8,-6,-4,-2,0,2,4,6,8,10,12,14,16,18,20,22,24,26,28,30,32,34,36,38,40,42], "labelExpr": "datum.value % 10 === 0 ? datum.label : ''", "tickSize": {"condition": {"test": "datum.value % 10 === 0", "value": -28}, "value": -14}, "labelPadding": 40}},
               "color": {"field": "s", "type": "nominal", "scale": {"domain": ["Total", "JEC", "JER", "Muon SF", "Muon cal.", "Pileup", "Prefiring", "Reg. bias", "Modelling"], "range": ["#000000", "#bd1f01", "#717581", "#92dadd", "#e76300", "#3f90da", "#b9ac70", "#a96b59", "#832db6"]},
                         "legend": {"title": null, "orient": "none", "legendX": 52, "legendY": 80, "direction": "horizontal", "columns": 3, "symbolType": "stroke", "symbolSize": 1100, "symbolStrokeWidth": 4, "labelFontSize": 34, "labelColor": "black", "labelOffset": 8, "columnPadding": 12, "rowPadding": 8, "padding": 0, "labelLimit": 400}},
               "detail": {"field": "dir"},
               "strokeWidth": {"condition": {"test": "datum.s === 'Total'", "value": 4.5}, "value": 3.2}
             }},
            {"data": {"values": [{}]}, "mark": {"type": "rule", "strokeDash": [8, 7], "strokeWidth": 3, "color": "black"}, "encoding": {"y": {"datum": 0, "axis": null}}},
            {"data": {"values": [{}]}, "mark": {"type": "point", "opacity": 0},
             "encoding": {
               "x": {"datum": 1.75, "axis": {"orient": "top", "title": null, "labels": false, "values": [0,0.1,0.2,0.3,0.4,0.5,0.6,0.7,0.8,0.9,1,1.1,1.2,1.3,1.4,1.5,1.6,1.7,1.8,1.9,2,2.1,2.2,2.3,2.4,2.5,2.6,2.7,2.8,2.9,3,3.1,3.2,3.3,3.4,3.5], "tickSize": {"condition": {"test": "round(datum.value*10) % 5 === 0", "value": -19}, "value": -10}}},
               "y": {"datum": 0, "axis": {"orient": "right", "title": null, "labels": false, "values": [-22,-20,-18,-16,-14,-12,-10,-8,-6,-4,-2,0,2,4,6,8,10,12,14,16,18,20,22,24,26,28,30,32,34,36,38,40,42], "tickSize": {"condition": {"test": "datum.value % 10 === 0", "value": -28}, "value": -14}}}
             }},
            {"data": {"values": [{}]}, "mark": {"type": "text", "text": "CMS", "fontSize": 36, "fontWeight": "bold"}, "encoding": {"x": {"datum": 0, "axis": null}, "y": {"datum": 43.93, "axis": null}}},
            {"data": {"values": [{}]}, "mark": {"type": "text", "text": "60 GeV < p"}, "encoding": {"x": {"datum": 0.1706, "axis": null}, "y": {"datum": 35.6, "axis": null}}},
            {"data": {"values": [{}]}, "mark": {"type": "text", "text": "jet", "fontSize": 22, "dx": 177, "dy": -22}, "encoding": {"x": {"datum": 0.1706, "axis": null}, "y": {"datum": 35.6, "axis": null}}},
            {"data": {"values": [{}]}, "mark": {"type": "text", "text": "T", "fontSize": 22, "dx": 181, "dy": 18}, "encoding": {"x": {"datum": 0.1706, "axis": null}, "y": {"datum": 35.6, "axis": null}}},
            {"data": {"values": [{}]}, "mark": {"type": "text", "text": "< 75 GeV", "dx": 216}, "encoding": {"x": {"datum": 0.1706, "axis": null}, "y": {"datum": 35.6, "axis": null}}},
            {"data": {"values": [{}]}, "mark": {"type": "text", "text": "ϒ(1S) → μμ", "align": "right", "font": "DejaVu Sans", "fontSize": 35}, "encoding": {"x": {"datum": 3.11, "axis": null}, "y": {"datum": 34.6, "axis": null}}},
            {"data": {"values": [{}]}, "mark": {"type": "text", "text": "p", "fontSize": 40}, "encoding": {"x": {"datum": 2.903, "axis": null}, "y": {"datum": -32.9, "axis": null}}},
            {"data": {"values": [{}]}, "mark": {"type": "text", "text": "rel", "fontSize": 23, "dx": 23, "dy": -15}, "encoding": {"x": {"datum": 2.903, "axis": null}, "y": {"datum": -32.9, "axis": null}}},
            {"data": {"values": [{}]}, "mark": {"type": "text", "text": "T", "fontSize": 22, "dx": 25, "dy": 17}, "encoding": {"x": {"datum": 2.903, "axis": null}, "y": {"datum": -32.9, "axis": null}}},
            {"data": {"values": [{}]}, "mark": {"type": "text", "text": "[GeV]", "align": "right", "fontSize": 40}, "encoding": {"x": {"datum": 3.5, "axis": null}, "y": {"datum": -32.9, "axis": null}}}
          ]
        }
      ]
    },
    {
      "spacing": 151,
      "resolve": {"scale": {"color": "independent"}, "legend": {"color": "independent"}},
      "hconcat": [
        {
          "width": 984, "height": 640,
          "resolve": {"axis": {"x": "independent", "y": "independent"}},
          "layer": [
            {"data": {"name": "z"}, "transform": [{"filter": "datum.p === '2S'"}, {"fold": ["u", "d"], "as": ["dir", "v"]}],
             "mark": {"type": "line", "interpolate": "step-after"},
             "encoding": {
               "x": {"field": "x", "type": "quantitative", "scale": {"domain": [0.5, 1], "nice": false, "zero": false},
                     "axis": {"orient": "bottom", "title": null, "format": "~g", "values": [0.5,0.51,0.52,0.53,0.54,0.55,0.56,0.57,0.58,0.59,0.6,0.61,0.62,0.63,0.64,0.65,0.66,0.67,0.68,0.69,0.7,0.71,0.72,0.73,0.74,0.75,0.76,0.77,0.78,0.79,0.8,0.81,0.82,0.83,0.84,0.85,0.86,0.87,0.88,0.89,0.9,0.91,0.92,0.93,0.94,0.95,0.96,0.97,0.98,0.99,1], "labelExpr": "round(datum.value*100) % 5 === 0 ? datum.label : ''", "tickSize": {"condition": {"test": "round(datum.value*100) % 5 === 0", "value": -19}, "value": -10}, "labelPadding": 23}},
               "y": {"field": "v", "type": "quantitative", "scale": {"domain": [-44.7, 77.6], "nice": false, "zero": false},
                     "axis": {"orient": "left", "title": "Systematic uncertainty [%]", "titleAnchor": "end", "titlePadding": 40, "values": [-40,-35,-30,-25,-20,-15,-10,-5,0,5,10,15,20,25,30,35,40,45,50,55,60,65,70,75], "labelExpr": "datum.value % 20 === 0 ? datum.label : ''", "tickSize": {"condition": {"test": "datum.value % 20 === 0", "value": -28}, "value": -14}, "labelPadding": 40}},
               "color": {"field": "s", "type": "nominal", "scale": {"domain": ["Total", "JEC", "JER", "Muon SF", "Muon cal.", "Pileup", "Prefiring", "Reg. bias", "Modelling"], "range": ["#000000", "#bd1f01", "#717581", "#92dadd", "#e76300", "#3f90da", "#b9ac70", "#a96b59", "#832db6"]},
                         "legend": {"title": null, "orient": "none", "legendX": 52, "legendY": 80, "direction": "horizontal", "columns": 3, "symbolType": "stroke", "symbolSize": 1100, "symbolStrokeWidth": 4, "labelFontSize": 34, "labelColor": "black", "labelOffset": 8, "columnPadding": 12, "rowPadding": 8, "padding": 0, "labelLimit": 400}},
               "detail": {"field": "dir"},
               "strokeWidth": {"condition": {"test": "datum.s === 'Total'", "value": 4.5}, "value": 3.2}
             }},
            {"data": {"values": [{}]}, "mark": {"type": "rule", "strokeDash": [8, 7], "strokeWidth": 3, "color": "black"}, "encoding": {"y": {"datum": 0, "axis": null}}},
            {"data": {"values": [{}]}, "mark": {"type": "point", "opacity": 0},
             "encoding": {
               "x": {"datum": 0.75, "axis": {"orient": "top", "title": null, "labels": false, "values": [0.5,0.51,0.52,0.53,0.54,0.55,0.56,0.57,0.58,0.59,0.6,0.61,0.62,0.63,0.64,0.65,0.66,0.67,0.68,0.69,0.7,0.71,0.72,0.73,0.74,0.75,0.76,0.77,0.78,0.79,0.8,0.81,0.82,0.83,0.84,0.85,0.86,0.87,0.88,0.89,0.9,0.91,0.92,0.93,0.94,0.95,0.96,0.97,0.98,0.99,1], "tickSize": {"condition": {"test": "round(datum.value*100) % 5 === 0", "value": -19}, "value": -10}}},
               "y": {"datum": 0, "axis": {"orient": "right", "title": null, "labels": false, "values": [-40,-35,-30,-25,-20,-15,-10,-5,0,5,10,15,20,25,30,35,40,45,50,55,60,65,70,75], "tickSize": {"condition": {"test": "datum.value % 20 === 0", "value": -28}, "value": -14}}}
             }},
            {"data": {"values": [{}]}, "mark": {"type": "text", "text": "CMS", "fontSize": 36, "fontWeight": "bold"}, "encoding": {"x": {"datum": 0.5, "axis": null}, "y": {"datum": 81.04, "axis": null}}},
            {"data": {"values": [{}]}, "mark": {"type": "text", "text": "60 GeV < p"}, "encoding": {"x": {"datum": 0.5244, "axis": null}, "y": {"datum": 65.4, "axis": null}}},
            {"data": {"values": [{}]}, "mark": {"type": "text", "text": "jet", "fontSize": 22, "dx": 177, "dy": -22}, "encoding": {"x": {"datum": 0.5244, "axis": null}, "y": {"datum": 65.4, "axis": null}}},
            {"data": {"values": [{}]}, "mark": {"type": "text", "text": "T", "fontSize": 22, "dx": 181, "dy": 18}, "encoding": {"x": {"datum": 0.5244, "axis": null}, "y": {"datum": 65.4, "axis": null}}},
            {"data": {"values": [{}]}, "mark": {"type": "text", "text": "< 75 GeV", "dx": 216}, "encoding": {"x": {"datum": 0.5244, "axis": null}, "y": {"datum": 65.4, "axis": null}}},
            {"data": {"values": [{}]}, "mark": {"type": "text", "text": "ϒ(2S) → μμ", "align": "right", "font": "DejaVu Sans", "fontSize": 35}, "encoding": {"x": {"datum": 0.943, "axis": null}, "y": {"datum": 63.5, "axis": null}}},
            {"data": {"values": [{}]}, "mark": {"type": "text", "text": "z", "align": "right", "fontSize": 40}, "encoding": {"x": {"datum": 1, "axis": null}, "y": {"datum": -63.8, "axis": null}}}
          ]
        },
        {
          "width": 984, "height": 640,
          "resolve": {"axis": {"x": "independent", "y": "independent"}},
          "layer": [
            {"data": {"name": "pt"}, "transform": [{"filter": "datum.p === '2S'"}, {"fold": ["u", "d"], "as": ["dir", "v"]}],
             "mark": {"type": "line", "interpolate": "step-after"},
             "encoding": {
               "x": {"field": "x", "type": "quantitative", "scale": {"domain": [0, 3.5], "nice": false, "zero": false},
                     "axis": {"orient": "bottom", "title": null, "format": "~g", "values": [0,0.1,0.2,0.3,0.4,0.5,0.6,0.7,0.8,0.9,1,1.1,1.2,1.3,1.4,1.5,1.6,1.7,1.8,1.9,2,2.1,2.2,2.3,2.4,2.5,2.6,2.7,2.8,2.9,3,3.1,3.2,3.3,3.4,3.5], "labelExpr": "round(datum.value*10) % 5 === 0 ? datum.label : ''", "tickSize": {"condition": {"test": "round(datum.value*10) % 5 === 0", "value": -19}, "value": -10}, "labelPadding": 23}},
               "y": {"field": "v", "type": "quantitative", "scale": {"domain": [-23, 42.1], "nice": false, "zero": false},
                     "axis": {"orient": "left", "title": "Systematic uncertainty [%]", "titleAnchor": "end", "titlePadding": 40, "values": [-22,-20,-18,-16,-14,-12,-10,-8,-6,-4,-2,0,2,4,6,8,10,12,14,16,18,20,22,24,26,28,30,32,34,36,38,40,42], "labelExpr": "datum.value % 10 === 0 ? datum.label : ''", "tickSize": {"condition": {"test": "datum.value % 10 === 0", "value": -28}, "value": -14}, "labelPadding": 40}},
               "color": {"field": "s", "type": "nominal", "scale": {"domain": ["Total", "JEC", "JER", "Muon SF", "Muon cal.", "Pileup", "Prefiring", "Reg. bias", "Modelling"], "range": ["#000000", "#bd1f01", "#717581", "#92dadd", "#e76300", "#3f90da", "#b9ac70", "#a96b59", "#832db6"]},
                         "legend": {"title": null, "orient": "none", "legendX": 52, "legendY": 80, "direction": "horizontal", "columns": 3, "symbolType": "stroke", "symbolSize": 1100, "symbolStrokeWidth": 4, "labelFontSize": 34, "labelColor": "black", "labelOffset": 8, "columnPadding": 12, "rowPadding": 8, "padding": 0, "labelLimit": 400}},
               "detail": {"field": "dir"},
               "strokeWidth": {"condition": {"test": "datum.s === 'Total'", "value": 4.5}, "value": 3.2}
             }},
            {"data": {"values": [{}]}, "mark": {"type": "rule", "strokeDash": [8, 7], "strokeWidth": 3, "color": "black"}, "encoding": {"y": {"datum": 0, "axis": null}}},
            {"data": {"values": [{}]}, "mark": {"type": "point", "opacity": 0},
             "encoding": {
               "x": {"datum": 1.75, "axis": {"orient": "top", "title": null, "labels": false, "values": [0,0.1,0.2,0.3,0.4,0.5,0.6,0.7,0.8,0.9,1,1.1,1.2,1.3,1.4,1.5,1.6,1.7,1.8,1.9,2,2.1,2.2,2.3,2.4,2.5,2.6,2.7,2.8,2.9,3,3.1,3.2,3.3,3.4,3.5], "tickSize": {"condition": {"test": "round(datum.value*10) % 5 === 0", "value": -19}, "value": -10}}},
               "y": {"datum": 0, "axis": {"orient": "right", "title": null, "labels": false, "values": [-22,-20,-18,-16,-14,-12,-10,-8,-6,-4,-2,0,2,4,6,8,10,12,14,16,18,20,22,24,26,28,30,32,34,36,38,40,42], "tickSize": {"condition": {"test": "datum.value % 10 === 0", "value": -28}, "value": -14}}}
             }},
            {"data": {"values": [{}]}, "mark": {"type": "text", "text": "CMS", "fontSize": 36, "fontWeight": "bold"}, "encoding": {"x": {"datum": 0, "axis": null}, "y": {"datum": 43.93, "axis": null}}},
            {"data": {"values": [{}]}, "mark": {"type": "text", "text": "60 GeV < p"}, "encoding": {"x": {"datum": 0.1706, "axis": null}, "y": {"datum": 35.6, "axis": null}}},
            {"data": {"values": [{}]}, "mark": {"type": "text", "text": "jet", "fontSize": 22, "dx": 177, "dy": -22}, "encoding": {"x": {"datum": 0.1706, "axis": null}, "y": {"datum": 35.6, "axis": null}}},
            {"data": {"values": [{}]}, "mark": {"type": "text", "text": "T", "fontSize": 22, "dx": 181, "dy": 18}, "encoding": {"x": {"datum": 0.1706, "axis": null}, "y": {"datum": 35.6, "axis": null}}},
            {"data": {"values": [{}]}, "mark": {"type": "text", "text": "< 75 GeV", "dx": 216}, "encoding": {"x": {"datum": 0.1706, "axis": null}, "y": {"datum": 35.6, "axis": null}}},
            {"data": {"values": [{}]}, "mark": {"type": "text", "text": "ϒ(2S) → μμ", "align": "right", "font": "DejaVu Sans", "fontSize": 35}, "encoding": {"x": {"datum": 3.11, "axis": null}, "y": {"datum": 34.6, "axis": null}}},
            {"data": {"values": [{}]}, "mark": {"type": "text", "text": "p", "fontSize": 40}, "encoding": {"x": {"datum": 2.903, "axis": null}, "y": {"datum": -32.9, "axis": null}}},
            {"data": {"values": [{}]}, "mark": {"type": "text", "text": "rel", "fontSize": 23, "dx": 23, "dy": -15}, "encoding": {"x": {"datum": 2.903, "axis": null}, "y": {"datum": -32.9, "axis": null}}},
            {"data": {"values": [{}]}, "mark": {"type": "text", "text": "T", "fontSize": 22, "dx": 25, "dy": 17}, "encoding": {"x": {"datum": 2.903, "axis": null}, "y": {"datum": -32.9, "axis": null}}},
            {"data": {"values": [{}]}, "mark": {"type": "text", "text": "[GeV]", "align": "right", "fontSize": 40}, "encoding": {"x": {"datum": 3.5, "axis": null}, "y": {"datum": -32.9, "axis": null}}}
          ]
        }
      ]
    },
    {
      "spacing": 136,
      "resolve": {"scale": {"color": "independent"}, "legend": {"color": "independent"}},
      "hconcat": [
        {
          "width": 984, "height": 640,
          "resolve": {"axis": {"x": "independent", "y": "independent"}},
          "layer": [
            {"data": {"name": "z"}, "transform": [{"filter": "datum.p === '3S'"}, {"fold": ["u", "d"], "as": ["dir", "v"]}],
             "mark": {"type": "line", "interpolate": "step-after"},
             "encoding": {
               "x": {"field": "x", "type": "quantitative", "scale": {"domain": [0.5, 1], "nice": false, "zero": false},
                     "axis": {"orient": "bottom", "title": null, "format": "~g", "values": [0.5,0.51,0.52,0.53,0.54,0.55,0.56,0.57,0.58,0.59,0.6,0.61,0.62,0.63,0.64,0.65,0.66,0.67,0.68,0.69,0.7,0.71,0.72,0.73,0.74,0.75,0.76,0.77,0.78,0.79,0.8,0.81,0.82,0.83,0.84,0.85,0.86,0.87,0.88,0.89,0.9,0.91,0.92,0.93,0.94,0.95,0.96,0.97,0.98,0.99,1], "labelExpr": "round(datum.value*100) % 5 === 0 ? datum.label : ''", "tickSize": {"condition": {"test": "round(datum.value*100) % 5 === 0", "value": -19}, "value": -10}, "labelPadding": 23}},
               "y": {"field": "v", "type": "quantitative", "scale": {"domain": [-44.7, 77.6], "nice": false, "zero": false},
                     "axis": {"orient": "left", "title": "Systematic uncertainty [%]", "titleAnchor": "end", "titlePadding": 40, "values": [-40,-35,-30,-25,-20,-15,-10,-5,0,5,10,15,20,25,30,35,40,45,50,55,60,65,70,75], "labelExpr": "datum.value % 20 === 0 ? datum.label : ''", "tickSize": {"condition": {"test": "datum.value % 20 === 0", "value": -28}, "value": -14}, "labelPadding": 40}},
               "color": {"field": "s", "type": "nominal", "scale": {"domain": ["Total", "JEC", "JER", "Muon SF", "Muon cal.", "Pileup", "Prefiring", "Reg. bias", "Modelling"], "range": ["#000000", "#bd1f01", "#717581", "#92dadd", "#e76300", "#3f90da", "#b9ac70", "#a96b59", "#832db6"]},
                         "legend": {"title": null, "orient": "none", "legendX": 52, "legendY": 80, "direction": "horizontal", "columns": 3, "symbolType": "stroke", "symbolSize": 1100, "symbolStrokeWidth": 4, "labelFontSize": 34, "labelColor": "black", "labelOffset": 8, "columnPadding": 12, "rowPadding": 8, "padding": 0, "labelLimit": 400}},
               "detail": {"field": "dir"},
               "strokeWidth": {"condition": {"test": "datum.s === 'Total'", "value": 4.5}, "value": 3.2}
             }},
            {"data": {"values": [{}]}, "mark": {"type": "rule", "strokeDash": [8, 7], "strokeWidth": 3, "color": "black"}, "encoding": {"y": {"datum": 0, "axis": null}}},
            {"data": {"values": [{}]}, "mark": {"type": "point", "opacity": 0},
             "encoding": {
               "x": {"datum": 0.75, "axis": {"orient": "top", "title": null, "labels": false, "values": [0.5,0.51,0.52,0.53,0.54,0.55,0.56,0.57,0.58,0.59,0.6,0.61,0.62,0.63,0.64,0.65,0.66,0.67,0.68,0.69,0.7,0.71,0.72,0.73,0.74,0.75,0.76,0.77,0.78,0.79,0.8,0.81,0.82,0.83,0.84,0.85,0.86,0.87,0.88,0.89,0.9,0.91,0.92,0.93,0.94,0.95,0.96,0.97,0.98,0.99,1], "tickSize": {"condition": {"test": "round(datum.value*100) % 5 === 0", "value": -19}, "value": -10}}},
               "y": {"datum": 0, "axis": {"orient": "right", "title": null, "labels": false, "values": [-40,-35,-30,-25,-20,-15,-10,-5,0,5,10,15,20,25,30,35,40,45,50,55,60,65,70,75], "tickSize": {"condition": {"test": "datum.value % 20 === 0", "value": -28}, "value": -14}}}
             }},
            {"data": {"values": [{}]}, "mark": {"type": "text", "text": "CMS", "fontSize": 36, "fontWeight": "bold"}, "encoding": {"x": {"datum": 0.5, "axis": null}, "y": {"datum": 81.04, "axis": null}}},
            {"data": {"values": [{}]}, "mark": {"type": "text", "text": "60 GeV < p"}, "encoding": {"x": {"datum": 0.5244, "axis": null}, "y": {"datum": 65.4, "axis": null}}},
            {"data": {"values": [{}]}, "mark": {"type": "text", "text": "jet", "fontSize": 22, "dx": 177, "dy": -22}, "encoding": {"x": {"datum": 0.5244, "axis": null}, "y": {"datum": 65.4, "axis": null}}},
            {"data": {"values": [{}]}, "mark": {"type": "text", "text": "T", "fontSize": 22, "dx": 181, "dy": 18}, "encoding": {"x": {"datum": 0.5244, "axis": null}, "y": {"datum": 65.4, "axis": null}}},
            {"data": {"values": [{}]}, "mark": {"type": "text", "text": "< 75 GeV", "dx": 216}, "encoding": {"x": {"datum": 0.5244, "axis": null}, "y": {"datum": 65.4, "axis": null}}},
            {"data": {"values": [{}]}, "mark": {"type": "text", "text": "ϒ(3S) → μμ", "align": "right", "font": "DejaVu Sans", "fontSize": 35}, "encoding": {"x": {"datum": 0.943, "axis": null}, "y": {"datum": 63.5, "axis": null}}},
            {"data": {"values": [{}]}, "mark": {"type": "text", "text": "z", "align": "right", "fontSize": 40}, "encoding": {"x": {"datum": 1, "axis": null}, "y": {"datum": -63.8, "axis": null}}}
          ]
        },
        {
          "width": 984, "height": 640,
          "resolve": {"axis": {"x": "independent", "y": "independent"}},
          "layer": [
            {"data": {"name": "pt"}, "transform": [{"filter": "datum.p === '3S'"}, {"fold": ["u", "d"], "as": ["dir", "v"]}],
             "mark": {"type": "line", "interpolate": "step-after"},
             "encoding": {
               "x": {"field": "x", "type": "quantitative", "scale": {"domain": [0, 3.5], "nice": false, "zero": false},
                     "axis": {"orient": "bottom", "title": null, "format": "~g", "values": [0,0.1,0.2,0.3,0.4,0.5,0.6,0.7,0.8,0.9,1,1.1,1.2,1.3,1.4,1.5,1.6,1.7,1.8,1.9,2,2.1,2.2,2.3,2.4,2.5,2.6,2.7,2.8,2.9,3,3.1,3.2,3.3,3.4,3.5], "labelExpr": "round(datum.value*10) % 5 === 0 ? datum.label : ''", "tickSize": {"condition": {"test": "round(datum.value*10) % 5 === 0", "value": -19}, "value": -10}, "labelPadding": 23}},
               "y": {"field": "v", "type": "quantitative", "scale": {"domain": [-23, 42.1], "nice": false, "zero": false},
                     "axis": {"orient": "left", "title": "Systematic uncertainty [%]", "titleAnchor": "end", "titlePadding": 40, "values": [-22,-20,-18,-16,-14,-12,-10,-8,-6,-4,-2,0,2,4,6,8,10,12,14,16,18,20,22,24,26,28,30,32,34,36,38,40,42], "labelExpr": "datum.value % 10 === 0 ? datum.label : ''", "tickSize": {"condition": {"test": "datum.value % 10 === 0", "value": -28}, "value": -14}, "labelPadding": 40}},
               "color": {"field": "s", "type": "nominal", "scale": {"domain": ["Total", "JEC", "JER", "Muon SF", "Muon cal.", "Pileup", "Prefiring", "Reg. bias", "Modelling"], "range": ["#000000", "#bd1f01", "#717581", "#92dadd", "#e76300", "#3f90da", "#b9ac70", "#a96b59", "#832db6"]},
                         "legend": {"title": null, "orient": "none", "legendX": 52, "legendY": 80, "direction": "horizontal", "columns": 3, "symbolType": "stroke", "symbolSize": 1100, "symbolStrokeWidth": 4, "labelFontSize": 34, "labelColor": "black", "labelOffset": 8, "columnPadding": 12, "rowPadding": 8, "padding": 0, "labelLimit": 400}},
               "detail": {"field": "dir"},
               "strokeWidth": {"condition": {"test": "datum.s === 'Total'", "value": 4.5}, "value": 3.2}
             }},
            {"data": {"values": [{}]}, "mark": {"type": "rule", "strokeDash": [8, 7], "strokeWidth": 3, "color": "black"}, "encoding": {"y": {"datum": 0, "axis": null}}},
            {"data": {"values": [{}]}, "mark": {"type": "point", "opacity": 0},
             "encoding": {
               "x": {"datum": 1.75, "axis": {"orient": "top", "title": null, "labels": false, "values": [0,0.1,0.2,0.3,0.4,0.5,0.6,0.7,0.8,0.9,1,1.1,1.2,1.3,1.4,1.5,1.6,1.7,1.8,1.9,2,2.1,2.2,2.3,2.4,2.5,2.6,2.7,2.8,2.9,3,3.1,3.2,3.3,3.4,3.5], "tickSize": {"condition": {"test": "round(datum.value*10) % 5 === 0", "value": -19}, "value": -10}}},
               "y": {"datum": 0, "axis": {"orient": "right", "title": null, "labels": false, "values": [-22,-20,-18,-16,-14,-12,-10,-8,-6,-4,-2,0,2,4,6,8,10,12,14,16,18,20,22,24,26,28,30,32,34,36,38,40,42], "tickSize": {"condition": {"test": "datum.value % 10 === 0", "value": -28}, "value": -14}}}
             }},
            {"data": {"values": [{}]}, "mark": {"type": "text", "text": "CMS", "fontSize": 36, "fontWeight": "bold"}, "encoding": {"x": {"datum": 0, "axis": null}, "y": {"datum": 43.93, "axis": null}}},
            {"data": {"values": [{}]}, "mark": {"type": "text", "text": "60 GeV < p"}, "encoding": {"x": {"datum": 0.1706, "axis": null}, "y": {"datum": 35.6, "axis": null}}},
            {"data": {"values": [{}]}, "mark": {"type": "text", "text": "jet", "fontSize": 22, "dx": 177, "dy": -22}, "encoding": {"x": {"datum": 0.1706, "axis": null}, "y": {"datum": 35.6, "axis": null}}},
            {"data": {"values": [{}]}, "mark": {"type": "text", "text": "T", "fontSize": 22, "dx": 181, "dy": 18}, "encoding": {"x": {"datum": 0.1706, "axis": null}, "y": {"datum": 35.6, "axis": null}}},
            {"data": {"values": [{}]}, "mark": {"type": "text", "text": "< 75 GeV", "dx": 216}, "encoding": {"x": {"datum": 0.1706, "axis": null}, "y": {"datum": 35.6, "axis": null}}},
            {"data": {"values": [{}]}, "mark": {"type": "text", "text": "ϒ(3S) → μμ", "align": "right", "font": "DejaVu Sans", "fontSize": 35}, "encoding": {"x": {"datum": 3.11, "axis": null}, "y": {"datum": 34.6, "axis": null}}},
            {"data": {"values": [{}]}, "mark": {"type": "text", "text": "p", "fontSize": 40}, "encoding": {"x": {"datum": 2.903, "axis": null}, "y": {"datum": -32.9, "axis": null}}},
            {"data": {"values": [{}]}, "mark": {"type": "text", "text": "rel", "fontSize": 23, "dx": 23, "dy": -15}, "encoding": {"x": {"datum": 2.903, "axis": null}, "y": {"datum": -32.9, "axis": null}}},
            {"data": {"values": [{}]}, "mark": {"type": "text", "text": "T", "fontSize": 22, "dx": 25, "dy": 17}, "encoding": {"x": {"datum": 2.903, "axis": null}, "y": {"datum": -32.9, "axis": null}}},
            {"data": {"values": [{}]}, "mark": {"type": "text", "text": "[GeV]", "align": "right", "fontSize": 40}, "encoding": {"x": {"datum": 3.5, "axis": null}, "y": {"datum": -32.9, "axis": null}}}
          ]
        }
      ]
    }
  ]
}
